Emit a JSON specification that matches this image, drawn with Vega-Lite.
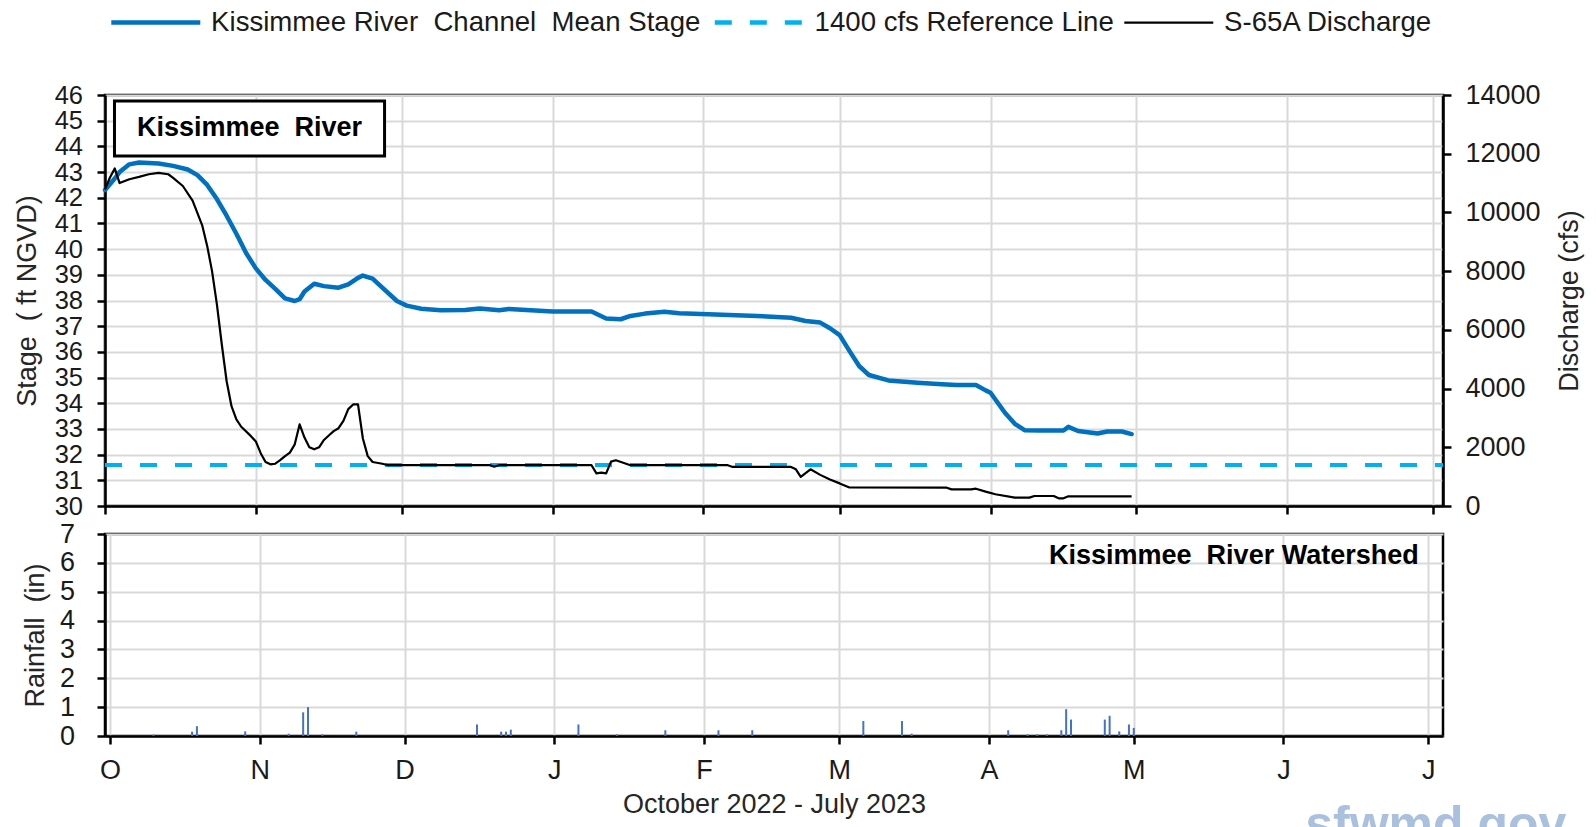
{
  "$schema": "https://vega.github.io/schema/vega-lite/v6.json",
  "background": "white",
  "padding": {"left": 11, "top": 7, "right": 5, "bottom": 5},
  "config": {
    "font": "Liberation Sans",
    "view": {"stroke": "#000000", "strokeWidth": 2.5},
    "axis": {
      "labelFont": "Liberation Sans", "labelFontSize": 27, "labelColor": "#1a1a1a",
      "titleFont": "Liberation Sans", "titleFontSize": 27, "titleFontWeight": "normal", "titleColor": "#262626",
      "gridColor": "#D9D9D9", "gridWidth": 2, "gridOpacity": 1,
      "domainColor": "#000000", "domainWidth": 2.5,
      "tickColor": "#000000", "tickWidth": 2.5, "tickSize": 8,
      "labelOverlap": false, "labelFlush": false
    }
  },
  "datasets": {
    "stage": [
      {"date": "2022-10-01", "stage": 42.3}, {"date": "2022-10-03", "stage": 42.75}, {"date": "2022-10-04", "stage": 43.0},
      {"date": "2022-10-06", "stage": 43.3}, {"date": "2022-10-08", "stage": 43.37}, {"date": "2022-10-12", "stage": 43.33},
      {"date": "2022-10-15", "stage": 43.24}, {"date": "2022-10-18", "stage": 43.1}, {"date": "2022-10-20", "stage": 42.88},
      {"date": "2022-10-22", "stage": 42.5}, {"date": "2022-10-24", "stage": 41.95}, {"date": "2022-10-26", "stage": 41.3},
      {"date": "2022-10-28", "stage": 40.6}, {"date": "2022-10-30", "stage": 39.85}, {"date": "2022-11-01", "stage": 39.25},
      {"date": "2022-11-03", "stage": 38.8}, {"date": "2022-11-05", "stage": 38.45}, {"date": "2022-11-07", "stage": 38.08},
      {"date": "2022-11-09", "stage": 37.98}, {"date": "2022-11-10", "stage": 38.05}, {"date": "2022-11-11", "stage": 38.35},
      {"date": "2022-11-13", "stage": 38.65}, {"date": "2022-11-15", "stage": 38.56}, {"date": "2022-11-18", "stage": 38.5},
      {"date": "2022-11-20", "stage": 38.63}, {"date": "2022-11-22", "stage": 38.88}, {"date": "2022-11-23", "stage": 38.97},
      {"date": "2022-11-25", "stage": 38.85}, {"date": "2022-11-27", "stage": 38.5}, {"date": "2022-11-30", "stage": 37.98},
      {"date": "2022-12-02", "stage": 37.8}, {"date": "2022-12-05", "stage": 37.68}, {"date": "2022-12-09", "stage": 37.62},
      {"date": "2022-12-14", "stage": 37.63}, {"date": "2022-12-17", "stage": 37.69}, {"date": "2022-12-21", "stage": 37.62},
      {"date": "2022-12-23", "stage": 37.67}, {"date": "2023-01-01", "stage": 37.57}, {"date": "2023-01-09", "stage": 37.57},
      {"date": "2023-01-12", "stage": 37.3}, {"date": "2023-01-15", "stage": 37.27}, {"date": "2023-01-17", "stage": 37.4},
      {"date": "2023-01-20", "stage": 37.49}, {"date": "2023-01-24", "stage": 37.56}, {"date": "2023-01-27", "stage": 37.5},
      {"date": "2023-02-02", "stage": 37.46}, {"date": "2023-02-12", "stage": 37.4}, {"date": "2023-02-19", "stage": 37.33},
      {"date": "2023-02-22", "stage": 37.2}, {"date": "2023-02-25", "stage": 37.14}, {"date": "2023-02-27", "stage": 36.92},
      {"date": "2023-03-01", "stage": 36.65}, {"date": "2023-03-03", "stage": 36.04}, {"date": "2023-03-05", "stage": 35.45},
      {"date": "2023-03-07", "stage": 35.1}, {"date": "2023-03-11", "stage": 34.89}, {"date": "2023-03-17", "stage": 34.8},
      {"date": "2023-03-22", "stage": 34.74}, {"date": "2023-03-25", "stage": 34.71}, {"date": "2023-03-29", "stage": 34.71},
      {"date": "2023-03-31", "stage": 34.5}, {"date": "2023-04-01", "stage": 34.41}, {"date": "2023-04-04", "stage": 33.62},
      {"date": "2023-04-06", "stage": 33.2}, {"date": "2023-04-08", "stage": 32.95}, {"date": "2023-04-11", "stage": 32.94},
      {"date": "2023-04-16", "stage": 32.94}, {"date": "2023-04-17", "stage": 33.08}, {"date": "2023-04-19", "stage": 32.92},
      {"date": "2023-04-23", "stage": 32.82}, {"date": "2023-04-25", "stage": 32.9}, {"date": "2023-04-28", "stage": 32.9},
      {"date": "2023-04-30", "stage": 32.8}
    ],
    "discharge": [
      {"date": "2022-10-01", "cfs": 10790}, {"date": "2022-10-02", "cfs": 11180}, {"date": "2022-10-03", "cfs": 11500},
      {"date": "2022-10-04", "cfs": 11000}, {"date": "2022-10-06", "cfs": 11130}, {"date": "2022-10-08", "cfs": 11210},
      {"date": "2022-10-10", "cfs": 11300}, {"date": "2022-10-12", "cfs": 11350}, {"date": "2022-10-14", "cfs": 11300},
      {"date": "2022-10-15", "cfs": 11180}, {"date": "2022-10-17", "cfs": 10900}, {"date": "2022-10-19", "cfs": 10400},
      {"date": "2022-10-21", "cfs": 9550}, {"date": "2022-10-22", "cfs": 8860}, {"date": "2022-10-23", "cfs": 8000},
      {"date": "2022-10-24", "cfs": 6870}, {"date": "2022-10-25", "cfs": 5510}, {"date": "2022-10-26", "cfs": 4250},
      {"date": "2022-10-27", "cfs": 3400}, {"date": "2022-10-28", "cfs": 2950}, {"date": "2022-10-29", "cfs": 2700},
      {"date": "2022-10-31", "cfs": 2380}, {"date": "2022-11-01", "cfs": 2200}, {"date": "2022-11-02", "cfs": 1800},
      {"date": "2022-11-03", "cfs": 1500}, {"date": "2022-11-04", "cfs": 1420}, {"date": "2022-11-05", "cfs": 1440},
      {"date": "2022-11-06", "cfs": 1560}, {"date": "2022-11-07", "cfs": 1700}, {"date": "2022-11-08", "cfs": 1820},
      {"date": "2022-11-09", "cfs": 2100}, {"date": "2022-11-10", "cfs": 2780}, {"date": "2022-11-11", "cfs": 2330},
      {"date": "2022-11-12", "cfs": 2000}, {"date": "2022-11-13", "cfs": 1930}, {"date": "2022-11-14", "cfs": 2000},
      {"date": "2022-11-15", "cfs": 2250}, {"date": "2022-11-16", "cfs": 2400}, {"date": "2022-11-17", "cfs": 2550},
      {"date": "2022-11-18", "cfs": 2650}, {"date": "2022-11-19", "cfs": 2900}, {"date": "2022-11-20", "cfs": 3300},
      {"date": "2022-11-21", "cfs": 3460}, {"date": "2022-11-22", "cfs": 3460}, {"date": "2022-11-23", "cfs": 2300},
      {"date": "2022-11-24", "cfs": 1700}, {"date": "2022-11-25", "cfs": 1500}, {"date": "2022-11-27", "cfs": 1440},
      {"date": "2022-11-28", "cfs": 1395}, {"date": "2022-12-09", "cfs": 1390}, {"date": "2022-12-19", "cfs": 1395},
      {"date": "2022-12-20", "cfs": 1340}, {"date": "2022-12-21", "cfs": 1390}, {"date": "2023-01-09", "cfs": 1390},
      {"date": "2023-01-10", "cfs": 1110}, {"date": "2023-01-11", "cfs": 1135}, {"date": "2023-01-12", "cfs": 1110},
      {"date": "2023-01-13", "cfs": 1510}, {"date": "2023-01-14", "cfs": 1560}, {"date": "2023-01-17", "cfs": 1390},
      {"date": "2023-02-06", "cfs": 1390}, {"date": "2023-02-07", "cfs": 1330}, {"date": "2023-02-19", "cfs": 1330},
      {"date": "2023-02-20", "cfs": 1250}, {"date": "2023-02-21", "cfs": 990}, {"date": "2023-02-23", "cfs": 1250},
      {"date": "2023-02-25", "cfs": 1060}, {"date": "2023-02-27", "cfs": 900}, {"date": "2023-03-01", "cfs": 770},
      {"date": "2023-03-03", "cfs": 630}, {"date": "2023-03-23", "cfs": 624}, {"date": "2023-03-24", "cfs": 567},
      {"date": "2023-03-28", "cfs": 567}, {"date": "2023-03-29", "cfs": 590}, {"date": "2023-03-31", "cfs": 490},
      {"date": "2023-04-02", "cfs": 400}, {"date": "2023-04-06", "cfs": 284}, {"date": "2023-04-09", "cfs": 284},
      {"date": "2023-04-10", "cfs": 341}, {"date": "2023-04-14", "cfs": 341}, {"date": "2023-04-15", "cfs": 261},
      {"date": "2023-04-16", "cfs": 261}, {"date": "2023-04-17", "cfs": 330}, {"date": "2023-04-30", "cfs": 330}
    ],
    "reference": [
      {"date": "2022-10-01", "cfs": 1400}, {"date": "2023-07-03", "cfs": 1400}
    ],
    "rain": [
      {"date": "2022-10-10", "rain": 0.05}, {"date": "2022-10-18", "rain": 0.15}, {"date": "2022-10-19", "rain": 0.34},
      {"date": "2022-10-29", "rain": 0.16}, {"date": "2022-11-07", "rain": 0.08}, {"date": "2022-11-10", "rain": 0.82},
      {"date": "2022-11-11", "rain": 1.0}, {"date": "2022-11-14", "rain": 0.06}, {"date": "2022-11-21", "rain": 0.15},
      {"date": "2022-12-16", "rain": 0.4}, {"date": "2022-12-21", "rain": 0.15}, {"date": "2022-12-22", "rain": 0.15},
      {"date": "2022-12-23", "rain": 0.22}, {"date": "2023-01-06", "rain": 0.4}, {"date": "2023-01-14", "rain": 0.06},
      {"date": "2023-01-24", "rain": 0.2}, {"date": "2023-02-04", "rain": 0.2}, {"date": "2023-02-11", "rain": 0.2},
      {"date": "2023-03-06", "rain": 0.52}, {"date": "2023-03-14", "rain": 0.52}, {"date": "2023-03-16", "rain": 0.08},
      {"date": "2023-04-05", "rain": 0.2}, {"date": "2023-04-09", "rain": 0.06}, {"date": "2023-04-11", "rain": 0.06},
      {"date": "2023-04-13", "rain": 0.06}, {"date": "2023-04-16", "rain": 0.2}, {"date": "2023-04-17", "rain": 0.93},
      {"date": "2023-04-18", "rain": 0.57}, {"date": "2023-04-25", "rain": 0.57}, {"date": "2023-04-26", "rain": 0.7},
      {"date": "2023-04-28", "rain": 0.16}, {"date": "2023-04-30", "rain": 0.4}, {"date": "2023-05-01", "rain": 0.28}
    ],
    "box": [
      {"date": "2022-10-02T22:48:00Z", "date2": "2022-11-27T11:00:00Z", "stage": 45.77, "stage2": 43.63}
    ],
    "boxlabel": [
      {"date": "2022-10-30T17:00:00Z", "stage": 44.7, "label": "Kissimmee\u00a0 River"}
    ],
    "watershed": [
      {"date": "2023-06-29", "rain": 6.25, "label": "Kissimmee\u00a0 River Watershed"}
    ],
    "watermark": [
      {"date": "2023-07-29T14:00:00Z", "rain": -3.64, "label": "sfwmd.gov"}
    ]
  },
  "vconcat": [
    {
      "width": 1338,
      "height": 411,
      "encoding": {
        "x": {
          "field": "date", "type": "temporal", "title": null,
          "scale": {"type": "utc", "nice": false, "domain": [{"year": 2022, "month": 10, "date": 1, "utc": true}, {"year": 2023, "month": 7, "date": 3, "utc": true}]},
          "axis": {
            "labels": false, "grid": true, "title": null,
            "values": [
              {"year": 2022, "month": 10, "date": 1, "utc": true}, {"year": 2022, "month": 11, "date": 1, "utc": true},
              {"year": 2022, "month": 12, "date": 1, "utc": true}, {"year": 2023, "month": 1, "date": 1, "utc": true},
              {"year": 2023, "month": 2, "date": 1, "utc": true}, {"year": 2023, "month": 3, "date": 1, "utc": true},
              {"year": 2023, "month": 4, "date": 1, "utc": true}, {"year": 2023, "month": 5, "date": 1, "utc": true},
              {"year": 2023, "month": 6, "date": 1, "utc": true}, {"year": 2023, "month": 7, "date": 1, "utc": true}
            ]
          }
        }
      },
      "layer": [
        {
          "encoding": {
            "y": {
              "field": "stage", "type": "quantitative", "title": "Stage\u00a0 (\u00a0ft NGVD)",
              "scale": {"domain": [30, 46], "nice": false, "zero": false},
              "axis": {"orient": "left", "values": [30,31,32,33,34,35,36,37,38,39,40,41,42,43,44,45,46], "grid": true, "labelFontSize": 25.5, "labelPadding": 14.5, "titlePadding": 13}
            }
          },
          "layer": [
            {
              "data": {"name": "stage"},
              "mark": {"type": "line", "strokeJoin": "round", "strokeCap": "round", "strokeWidth": 4.5},
              "encoding": {
                "color": {
                  "datum": "Kissimmee River\u00a0 Channel\u00a0 Mean Stage", "type": "nominal",
                  "scale": {"domain": ["Kissimmee River\u00a0 Channel\u00a0 Mean Stage", "1400 cfs Reference Line", "S-65A Discharge"], "range": ["#0070C0", "#00B0F0", "#000000"]},
                  "legend": {
                    "orient": "none", "legendX": 37, "legendY": -86.5, "direction": "horizontal", "title": null,
                    "symbolType": "stroke", "symbolSize": 400, "labelFont": "Liberation Sans", "labelFontSize": 27.6,
                    "labelColor": "#1a1a1a", "labelOffset": 41.5, "columnPadding": 4.5, "labelLimit": 1000,
                    "encode": {
                      "symbols": {
                        "update": {
                          "size": {"value": 7921},
                          "strokeWidth": {"signal": "datum.value === 'S-65A Discharge' ? 2.2 : 4.5"},
                          "strokeDash": {"signal": "datum.value === '1400 cfs Reference Line' ? [17, 18] : [1, 0]"}
                        }
                      }
                    }
                  }
                }
              }
            },
            {
              "data": {"name": "box"},
              "mark": {"type": "rect", "fill": "#ffffff", "stroke": "#000000", "strokeWidth": 3},
              "encoding": {
                "x2": {"field": "date2"},
                "y2": {"field": "stage2"}
              }
            },
            {
              "data": {"name": "boxlabel"},
              "mark": {"type": "text", "font": "Liberation Sans", "fontSize": 27, "fontWeight": "bold", "color": "#000000", "align": "center", "baseline": "middle"},
              "encoding": {
                "text": {"field": "label"}
              }
            }
          ]
        },
        {
          "encoding": {
            "y": {
              "field": "cfs", "type": "quantitative", "title": "Discharge (cfs)",
              "scale": {"domain": [0, 14000], "nice": false},
              "axis": {"orient": "right", "values": [0,2000,4000,6000,8000,10000,12000,14000], "format": "d", "grid": false, "labelPadding": 14, "titlePadding": 16, "titleAngle": 270, "titleBaseline": "top"}
            }
          },
          "layer": [
            {
              "data": {"name": "reference"},
              "mark": {"type": "line", "strokeWidth": 4, "strokeDash": [17, 18]},
              "encoding": {
                "color": {"datum": "1400 cfs Reference Line", "type": "nominal"}
              }
            },
            {
              "data": {"name": "discharge"},
              "mark": {"type": "line", "strokeJoin": "round", "strokeWidth": 2.2},
              "encoding": {
                "color": {"datum": "S-65A Discharge", "type": "nominal"}
              }
            }
          ]
        }
      ],
      "resolve": {"scale": {"y": "independent"}}
    },
    {
      "width": 1338,
      "height": 202,
      "encoding": {
        "x": {
          "field": "date", "type": "temporal", "title": "October 2022 - July 2023",
          "scale": {"type": "utc", "nice": false, "domain": [{"year": 2022, "month": 10, "date": 1, "utc": true}, {"year": 2023, "month": 7, "date": 3, "utc": true}]},
          "axis": {
            "grid": true, "labelPadding": 13, "titlePadding": 8,
            "labelExpr": "slice(utcFormat(datum.value, '%B'), 0, 1)",
            "values": [
              {"year": 2022, "month": 10, "date": 1, "utc": true}, {"year": 2022, "month": 11, "date": 1, "utc": true},
              {"year": 2022, "month": 12, "date": 1, "utc": true}, {"year": 2023, "month": 1, "date": 1, "utc": true},
              {"year": 2023, "month": 2, "date": 1, "utc": true}, {"year": 2023, "month": 3, "date": 1, "utc": true},
              {"year": 2023, "month": 4, "date": 1, "utc": true}, {"year": 2023, "month": 5, "date": 1, "utc": true},
              {"year": 2023, "month": 6, "date": 1, "utc": true}, {"year": 2023, "month": 7, "date": 1, "utc": true}
            ]
          }
        },
        "y": {
          "field": "rain", "type": "quantitative", "title": "Rainfall\u00a0 (in)",
          "scale": {"domain": [0, 7], "nice": false},
          "axis": {"values": [0,1,2,3,4,5,6,7], "grid": true, "labelPadding": 22.5, "titlePadding": 10}
        }
      },
      "layer": [
        {
          "data": {"name": "rain"},
          "mark": {"type": "bar", "width": 2, "color": "#4472C4"}
        },
        {
          "data": {"name": "watershed"},
          "mark": {"type": "text", "font": "Liberation Sans", "fontSize": 27, "fontWeight": "bold", "color": "#000000", "align": "right", "baseline": "middle"},
          "encoding": {
            "text": {"field": "label"}
          }
        },
        {
          "data": {"name": "watermark"},
          "mark": {"type": "text", "font": "Liberation Sans", "fontSize": 50, "fontWeight": "bold", "color": "#A9C0DE", "align": "right", "baseline": "alphabetic"},
          "encoding": {
            "text": {"field": "label"}
          }
        }
      ]
    }
  ],
  "spacing": -3,
  "resolve": {"scale": {"color": "independent"}, "legend": {"color": "independent"}}
}
